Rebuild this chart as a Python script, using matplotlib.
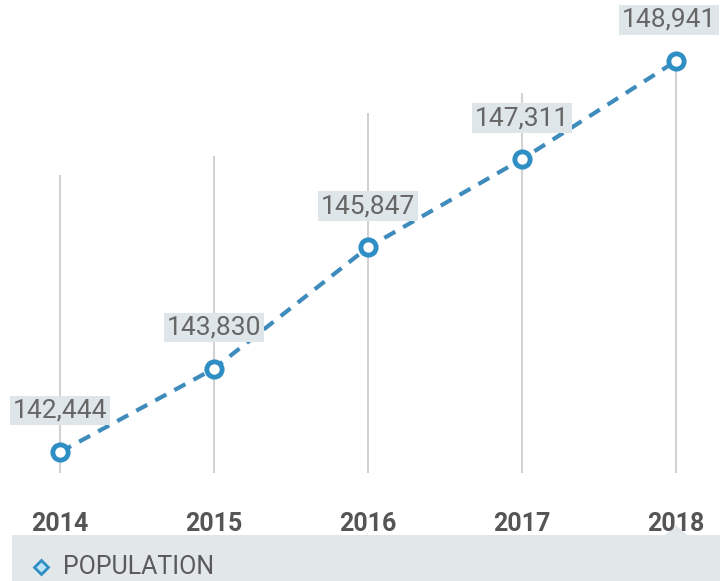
import matplotlib.pyplot as plt
from matplotlib.patches import Rectangle, Polygon
from matplotlib.lines import Line2D

years = [2014, 2015, 2016, 2017, 2018]
population = [142444, 143830, 145847, 147311, 148941]
labels = ["142,444", "143,830", "145,847", "147,311", "148,941"]
# upper end of each light vertical guide line
grid_tops = [147040, 147370, 148080, 148410, 149000]

line_color = "#3f8cbc"
marker_color = "#2f8fc4"
text_gray = "#666666"
font = ["Roboto", "DejaVu Sans"]

fig = plt.figure(figsize=(7.2, 5.81), dpi=100)
ax = fig.add_axes([0, 101 / 581, 1, 440 / 581])

ax.set_xlim(2013.61, 2018.286)
ax.set_ylim(141979, 149292)

# vertical guide lines
ax.vlines(years, 142100, grid_tops, colors="#d2d2d2", linewidth=1.5, zorder=1)

# dashed population line with open circle markers
ax.plot(years, population, linestyle=(0, (3, 2.2)), color=line_color,
        linewidth=3, zorder=2)
ax.plot(years, population, linestyle="none", marker="o", markersize=11,
        markerfacecolor="white", markeredgecolor=marker_color,
        markeredgewidth=3.5, zorder=3)

# value labels (the last one nudged left so it stays inside the figure)
for i, (x, y, lab) in enumerate(zip(years, population, labels)):
    dx = -5 if i == len(years) - 1 else 0
    ax.annotate(lab, (x, y), xytext=(dx, 21), textcoords="offset points",
                ha="center", va="bottom", fontsize=19, color=text_gray,
                family=font,
                bbox=dict(boxstyle="square,pad=0.1", fc="#dfe6ea", ec="none"),
                zorder=4)

ax.set_xticks(years)
ax.set_xticklabels([str(y) for y in years], fontsize=18, fontweight="bold",
                   color="#555555", family=font)
ax.tick_params(axis="x", length=0, pad=23)
ax.set_yticks([])
for s in ax.spines.values():
    s.set_visible(False)

# legend panel at bottom
fig.patches.append(Rectangle((12 / 720, 0), 708 / 720, 46 / 581, zorder=-1,
                             transform=fig.transFigure, fc="#e2e7ea", ec="none"))
fig.patches.append(Polygon([(665 / 720, 46 / 581), (676 / 720, 56 / 581),
                            (687 / 720, 46 / 581)], zorder=-1,
                           transform=fig.transFigure, fc="#e2e7ea", ec="none"))
fig.add_artist(Line2D([41 / 720], [14 / 581], transform=fig.transFigure,
                      marker="D", markersize=7, markerfacecolor="#bfe3f5",
                      markeredgecolor="#2f8fc4", markeredgewidth=2, linestyle="none"))
fig.text(63 / 720, 14 / 581, "POPULATION", fontsize=18, color="#5a5a5a",
         ha="left", va="center", family=font)

fig.savefig("out.png", dpi=100)
